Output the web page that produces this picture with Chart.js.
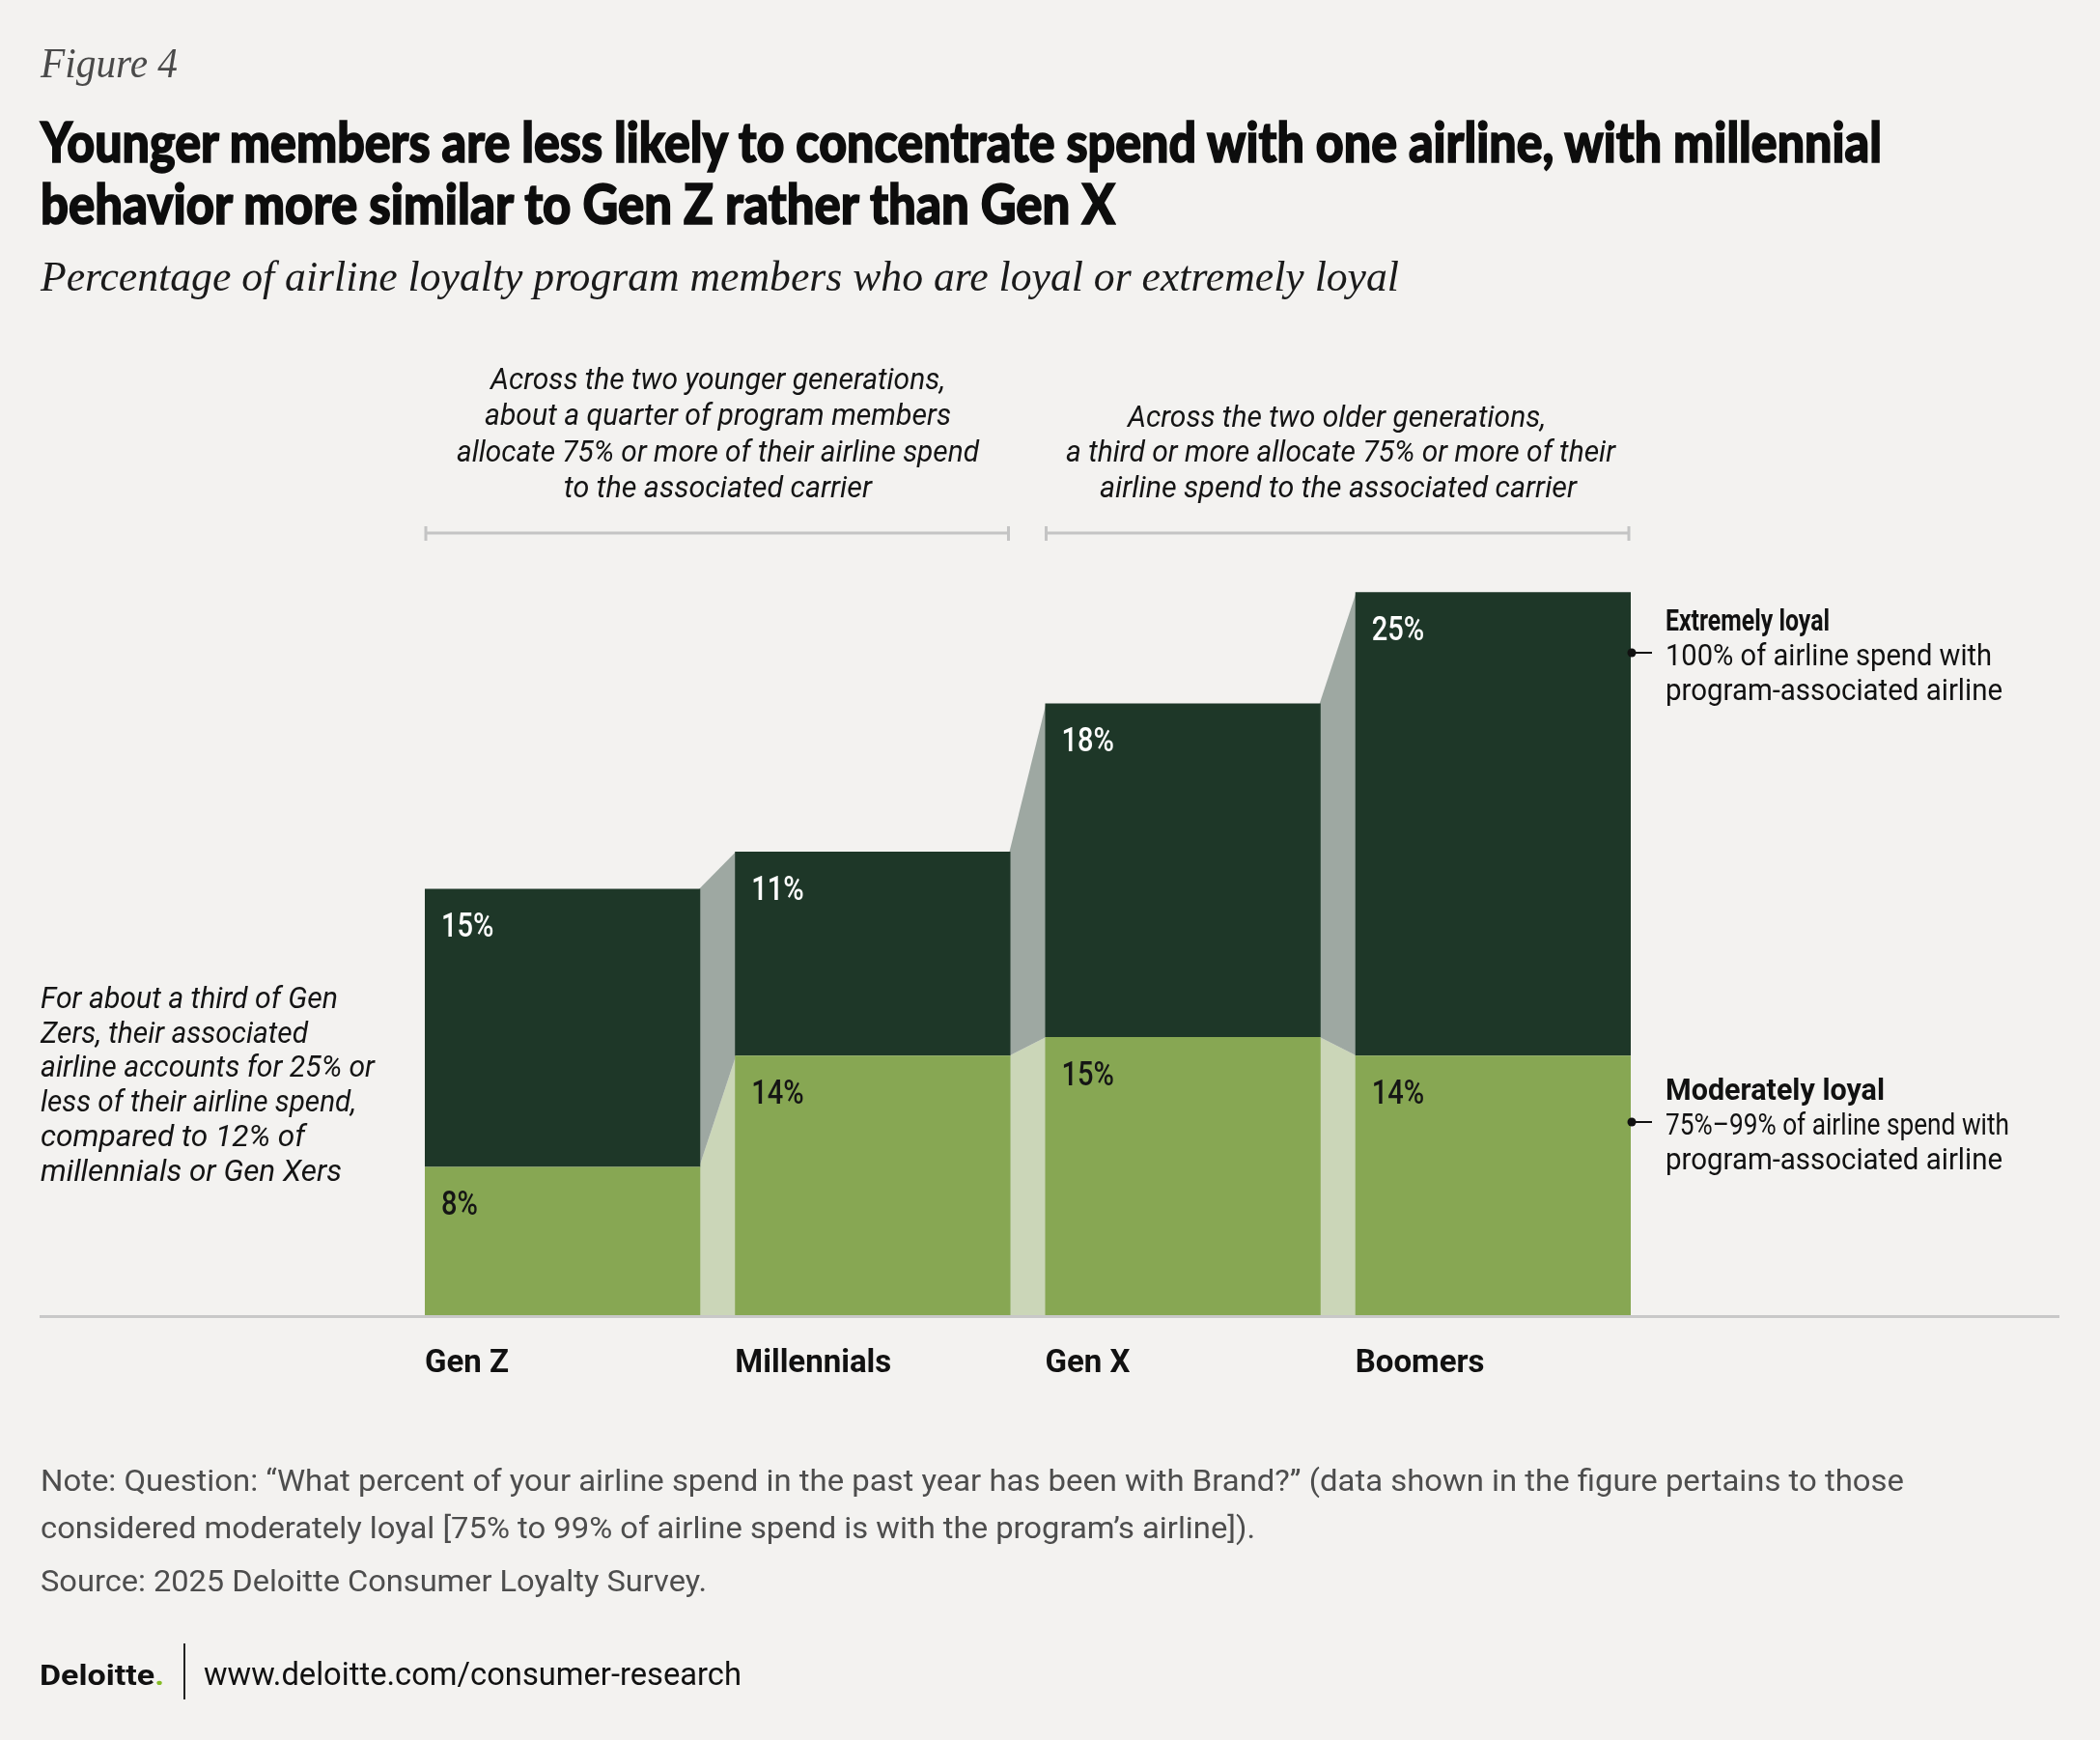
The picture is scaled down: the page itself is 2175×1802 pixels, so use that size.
<!DOCTYPE html>
<html>
<head>
<meta charset="utf-8">
<title>Figure 4</title>
<script src="https://cdn.jsdelivr.net/npm/chart.js@4.4.1/dist/chart.umd.min.js"></script>
<style>
  html, body { margin: 0; padding: 0; background: #f3f2f0; }
  #wrap { position: relative; width: 2175px; height: 1802px; overflow: hidden; background: #f3f2f0; }
  #chart { position: absolute; left: 0; top: 0; }
  .t { position: absolute; white-space: nowrap; line-height: 1; transform-origin: 0 0; }
  .fig { font: italic 400 44px "Liberation Serif", serif; color: #4a4a4a; }
  .title { font: 900 57px Lato, Roboto, sans-serif; color: #0d0d0d; -webkit-text-stroke: 1.6px #0d0d0d; }
  .sub { font: italic 400 44px "Liberation Serif", serif; color: #1a1a1a; }
  .ann { font: italic 400 32px Roboto, sans-serif; color: #141414; }
  .legb { font: 700 32px Roboto, sans-serif; color: #111; }
  .leg { font: 400 32px Roboto, sans-serif; color: #111; }
  .note { font: 400 32px Roboto, sans-serif; color: #4d4d4d; }
  .logo { font: 700 30px Roboto, sans-serif; color: #111; }
  .logo span { color: #86bc25; }
  .url { font: 400 34px Roboto, sans-serif; color: #111; }
  #sep { position: absolute; left: 190px; top: 1702px; width: 2px; height: 58px; background: #222; }
</style>
</head>
<body>
<div id="wrap">
  <canvas id="chart" width="2175" height="1802"></canvas>
  <div id="sep"></div>
</div>
<script>
// data
const categories = ['Gen Z', 'Millennials', 'Gen X', 'Boomers'];
const moderatelyLoyal = [8, 14, 15, 14];   // 75%-99% of spend
const extremelyLoyal = [15, 11, 18, 25];   // 100% of spend

const darkGreen = '#1e3728';
const lightGreen = '#87a753';
const darkBand = '#9ea8a2';
const lightBand = '#cbd6b8';

// text blocks: [text, class, left, right, baseline]
const textLines = [
  ['Figure 4', 'fig', 42, 184, 77],
  ['Younger members are less likely to concentrate spend with one airline, with millennial', 'title', 42, 1949, 160],
  ['behavior more similar to Gen Z rather than Gen X', 'title', 42, 1155, 224],
  ['Percentage of airline loyalty program members who are loyal or extremely loyal', 'sub', 42, 1449, 298],

  ['Across the two younger generations,', 'ann', 508, 979, 400],
  ['about a quarter of program members', 'ann', 502, 985, 437],
  ['allocate 75% or more of their airline spend', 'ann', 473, 1014, 475],
  ['to the associated carrier', 'ann', 584, 903, 512],
  ['Across the two older generations,', 'ann', 1168, 1601, 439],
  ['a third or more allocate 75% or more of their', 'ann', 1104, 1673, 475],
  ['airline spend to the associated carrier', 'ann', 1139, 1633, 512],

  ['For about a third of Gen', 'ann', 42, 350, 1041],
  ['Zers, their associated', 'ann', 42, 319, 1077],
  ['airline accounts for 25% or', 'ann', 42, 388, 1112],
  ['less of their airline spend,', 'ann', 42, 369, 1148],
  ['compared to 12% of', 'ann', 42, 316, 1184],
  ['millennials or Gen Xers', 'ann', 42, 354, 1220],

  ['Extremely loyal', 'legb', 1725, 1895, 650],
  ['100% of airline spend with', 'leg', 1725, 2063, 686],
  ['program-associated airline', 'leg', 1725, 2074, 722],
  ['Moderately loyal', 'legb', 1725, 1952, 1136],
  ['75%\u201399% of airline spend with', 'leg', 1725, 2081, 1172],
  ['program-associated airline', 'leg', 1725, 2074, 1208],

  ['Note: Question: \u201cWhat percent of your airline spend in the past year has been with Brand?\u201d (data shown in the figure pertains to those', 'note', 42, 1972, 1541],
  ['considered moderately loyal [75% to 99% of airline spend is with the program\u2019s airline]).', 'note', 42, 1300, 1590],
  ['Source: 2025 Deloitte Consumer Loyalty Survey.', 'note', 42, 732, 1645],
  ['www.deloitte.com/consumer-research', 'url', 211, 768, 1742]
];

const wrap = document.getElementById('wrap');

function place(el, x0, x1, base) {
  wrap.appendChild(el);
  const fs = parseFloat(getComputedStyle(el).fontSize);
  const w = el.getBoundingClientRect().width;
  el.style.left = x0 + 'px';
  el.style.top = (base - 0.84 * fs) + 'px';
  el.style.transform = 'scaleX(' + ((x1 - x0) / w).toFixed(4) + ')';
}

textLines.forEach(([text, cls, x0, x1, base]) => {
  const el = document.createElement('div');
  el.className = 't ' + cls;
  el.textContent = text;
  place(el, x0, x1, base);
});

const logo = document.createElement('div');
logo.className = 't logo';
logo.innerHTML = 'Deloitte<span>.</span>';
place(logo, 41, 170, 1742);

// bands joining neighbouring bars, drawn under the bars
const bandsPlugin = {
  id: 'bands',
  beforeDatasetsDraw(chart) {
    const ctx = chart.ctx;
    const lo = chart.getDatasetMeta(0).data;
    const hi = chart.getDatasetMeta(1).data;
    const poly = (pts, color) => {
      ctx.fillStyle = color;
      ctx.beginPath();
      pts.forEach(([x, y], k) => k ? ctx.lineTo(x, y) : ctx.moveTo(x, y));
      ctx.closePath();
      ctx.fill();
    };
    ctx.save();
    for (let i = 0; i < lo.length - 1; i++) {
      const a = lo[i].x + lo[i].width / 2 - 1;
      const b = lo[i + 1].x - lo[i + 1].width / 2 + 1;
      poly([[a, lo[i].base], [a, lo[i].y], [b, lo[i + 1].y], [b, lo[i + 1].base]], lightBand);
      poly([[a, hi[i].base], [a, hi[i].y], [b, hi[i + 1].y], [b, hi[i + 1].base]], darkBand);
    }
    ctx.restore();
  },
  afterDatasetsDraw(chart) {
    const ctx = chart.ctx;
    const y0 = chart.scales.y.getPixelForValue(0);
    ctx.save();
    // baseline
    ctx.strokeStyle = '#c8c8c8';
    ctx.lineWidth = 3;
    ctx.beginPath();
    ctx.moveTo(41, y0 + 1.5);
    ctx.lineTo(2133, y0 + 1.5);
    ctx.stroke();

    // value labels
    ctx.font = '500 35px Roboto, sans-serif';
    ctx.textBaseline = 'middle';
    ctx.textAlign = 'left';
    chart.data.datasets.forEach((ds, d) => {
      chart.getDatasetMeta(d).data.forEach((bar, i) => {
        ctx.save();
        ctx.fillStyle = d === 0 ? '#151515' : '#ffffff';
        ctx.translate(bar.x - bar.width / 2 + 17, bar.y + 41);
        ctx.scale(0.83, 1);
        ctx.fillText(ds.data[i] + '%', 0, 0);
        ctx.restore();
      });
    });

    // group brackets above the bars
    const lo = chart.getDatasetMeta(0).data;
    const edgeL = i => lo[i].x - lo[i].width / 2;
    const edgeR = i => lo[i].x + lo[i].width / 2;
    ctx.strokeStyle = '#c4c4c4';
    ctx.lineWidth = 3;
    [[0, 1], [2, 3]].forEach(([p, q]) => {
      const xa = edgeL(p) + 1, xb = edgeR(q) - 2;
      ctx.beginPath();
      ctx.moveTo(xa, 552); ctx.lineTo(xb, 552);
      ctx.moveTo(xa, 545); ctx.lineTo(xa, 560);
      ctx.moveTo(xb, 545); ctx.lineTo(xb, 560);
      ctx.stroke();
    });

    // legend pointers at the last bar
    const last = lo.length - 1;
    const xr = edgeR(last);
    ctx.strokeStyle = '#111';
    ctx.fillStyle = '#111';
    ctx.lineWidth = 2;
    [676, 1162].forEach(y => {
      ctx.beginPath();
      ctx.moveTo(xr, y); ctx.lineTo(xr + 22, y);
      ctx.stroke();
      ctx.beginPath();
      ctx.arc(xr + 1, y, 4.5, 0, Math.PI * 2);
      ctx.fill();
    });
    ctx.restore();
  }
};

new Chart(document.getElementById('chart'), {
  type: 'bar',
  data: {
    labels: categories,
    datasets: [
      { label: 'Moderately loyal', data: moderatelyLoyal, backgroundColor: lightGreen },
      { label: 'Extremely loyal', data: extremelyLoyal, backgroundColor: darkGreen }
    ]
  },
  options: {
    responsive: false,
    devicePixelRatio: 1,
    animation: false,
    categoryPercentage: 1,
    barPercentage: 0.888,
    layout: { padding: { left: 422, right: 468, top: 594, bottom: 350 } },
    plugins: {
      legend: { display: false },
      tooltip: { enabled: false }
    },
    scales: {
      x: {
        stacked: true,
        grid: { display: false, drawTicks: false },
        border: { display: false },
        afterFit(scale) { scale.height = 90; },
        ticks: {
          align: 'start',
          labelOffset: -142.6,
          padding: 31,
          autoSkip: false,
          maxRotation: 0,
          color: '#111',
          font: { family: 'Roboto', weight: 'bold', size: 33 }
        }
      },
      y: {
        stacked: true,
        display: false,
        min: 0,
        max: 40
      }
    }
  },
  plugins: [bandsPlugin]
});
</script>
</body>
</html>
